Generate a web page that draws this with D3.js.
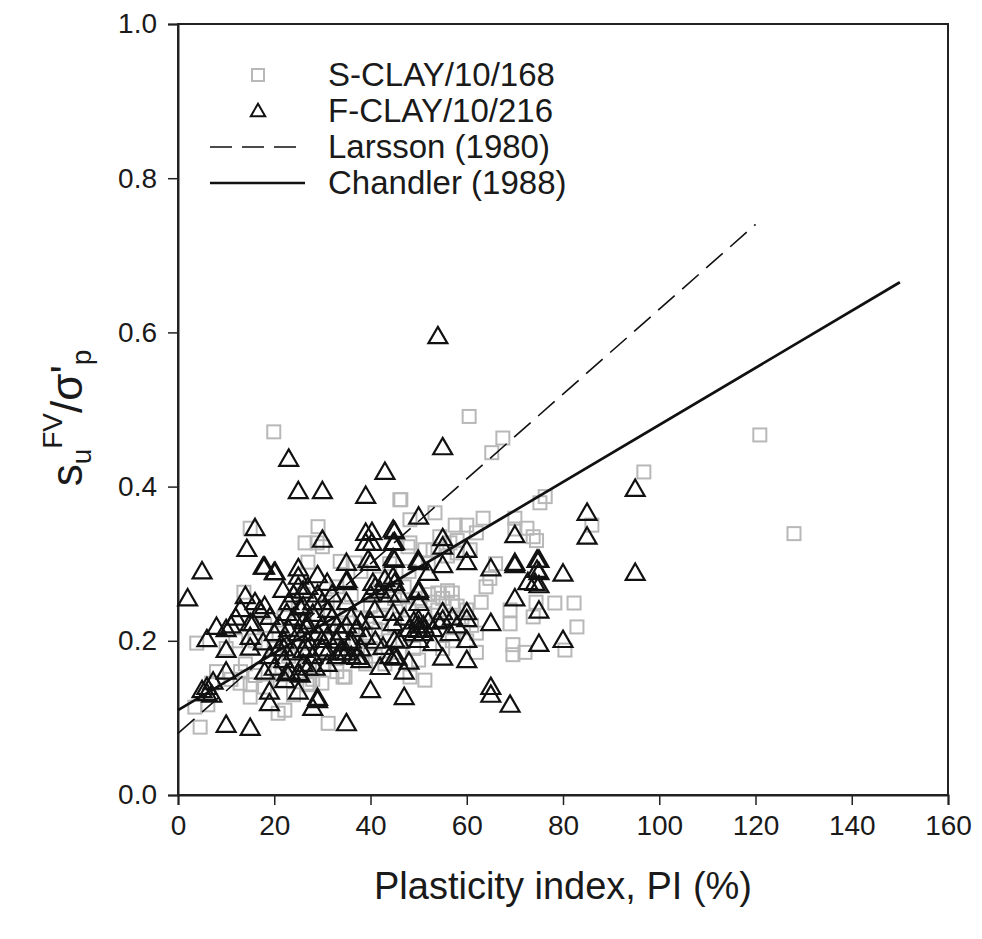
<!DOCTYPE html>
<html><head><meta charset="utf-8">
<script src="https://cdn.jsdelivr.net/npm/d3@7/dist/d3.min.js"></script>
<style>body{margin:0;background:#fff}svg{display:block}text{font-family:"Liberation Sans",Arial,sans-serif;fill:#1a1a1a}</style>
</head><body><svg id="c" width="982" height="939"></svg>
<script>
const xTicks = [0,20,40,60,80,100,120,140,160];
const yTicks = [0.0,0.2,0.4,0.6,0.8,1.0];
const legendLabels = ["S-CLAY/10/168","F-CLAY/10/216","Larsson (1980)","Chandler (1988)"];
// Larsson (1980): 0.08 + 0.0055 PI ; Chandler (1988): 0.11 + 0.0037 PI
const larssonPI = [0,120];
const larssonVal = [0.08,0.74];
const chandlerPI = [0,150];
const chandlerVal = [0.11,0.665];

const sClay = [[19.9,0.471],[15,0.346],[29.1,0.348],[26.4,0.327],[27,0.302],[33.7,0.303],[13.7,0.263],[30,0.322],[3.9,0.197],[4.6,0.088],[3.5,0.114],[6.2,0.117],[12.9,0.145],[15,0.127],[15,0.143],[20.8,0.106],[22.2,0.11],[20.6,0.158],[21.2,0.149],[31.2,0.093],[34.3,0.153],[29.9,0.145],[27.4,0.145],[60.5,0.491],[67.5,0.463],[65.2,0.444],[46.3,0.383],[48.2,0.357],[53.4,0.366],[57.6,0.35],[60,0.35],[63.4,0.359],[70,0.359],[72.5,0.346],[48.2,0.327],[51.3,0.318],[54.4,0.335],[56.5,0.327],[73.8,0.335],[75.2,0.379],[96.8,0.419],[76.3,0.387],[70,0.345],[86,0.35],[74.5,0.33],[78.3,0.249],[82.3,0.249],[82.9,0.218],[69,0.24],[69,0.222],[73.8,0.231],[69.6,0.195],[69.6,0.182],[72.1,0.185],[80.4,0.188],[120.9,0.467],[128,0.339],[34.7,0.153],[51.3,0.149],[48.2,0.153],[74.4,0.25],[36.8,0.301],[28.9,0.327],[46.1,0.383],[47.8,0.322],[58,0.314],[64.8,0.281],[53,0.318],[60.7,0.318],[54,0.262],[57,0.262],[26.8,0.143],[21.6,0.156],
[16,0.2],[18,0.22],[20,0.19],[21,0.21],[22,0.23],[23,0.18],[24,0.2],[25,0.24],[26,0.26],[27,0.18],[28,0.21],[29,0.23],[30,0.17],[31,0.25],[32,0.2],[33,0.27],[34,0.22],[35,0.24],[36,0.26],[37,0.2],[38,0.23],[39,0.21],[40,0.19],[40,0.245],[41,0.215],[42,0.23],[43,0.25],[44,0.2],[45,0.22],[46,0.245],[47,0.27],[48,0.24],[49,0.19],[50,0.255],[51,0.235],[52,0.26],[53,0.25],[54,0.24],[55,0.255],[56,0.265],[57,0.25],[58,0.245],[59,0.23],[60,0.24],[61,0.22],[62,0.21],[63,0.25],[64,0.27],[66,0.3],[45,0.255],[42,0.28],[38,0.29],[44,0.3],[48,0.29],[52,0.3],[56,0.31],[58,0.33],[62,0.34],[12,0.2],[10,0.19],[8,0.16],[11,0.15],[14,0.17],[16,0.155],[18,0.14],[24,0.13],[28,0.15],[33,0.16],[36,0.18],[39,0.17],[41,0.18],[43,0.17],[46,0.185],[55,0.19],[57,0.2],[50,0.175],[60,0.2],[62,0.185],[13,0.16],[7,0.145]];

const fClay = [[2,0.255],[5,0.29],[6,0.202],[5,0.136],[6,0.132],[7.3,0.147],[8,0.218],[10,0.215],[10,0.188],[10,0.16],[10,0.091],[13,0.241],[14,0.258],[14.3,0.319],[16,0.346],[15,0.223],[15,0.205],[15,0.191],[15,0.087],[18,0.296],[18,0.245],[18,0.16],[17.7,0.198],[19,0.134],[19,0.119],[20,0.289],[22.6,0.158],[23,0.436],[25,0.394],[25,0.294],[25,0.158],[25,0.134],[28,0.113],[29,0.126],[29,0.285],[30,0.394],[30,0.331],[35,0.301],[35,0.276],[35,0.093],[39,0.388],[39,0.34],[39,0.327],[40,0.301],[40,0.136],[43,0.419],[45,0.342],[45,0.328],[45,0.305],[45,0.275],[45,0.201],[45,0.179],[42.6,0.192],[42,0.166],[47,0.16],[47,0.127],[48,0.173],[50,0.361],[50,0.302],[50,0.263],[50,0.266],[50,0.249],[50,0.227],[50,0.214],[50,0.201],[52,0.288],[53,0.197],[54,0.595],[55,0.451],[55,0.333],[55,0.322],[55,0.298],[55,0.237],[55,0.227],[55,0.178],[56.5,0.21],[60,0.318],[60,0.302],[60,0.237],[60,0.228],[60,0.201],[60,0.175],[65,0.294],[65,0.223],[65,0.14],[65,0.13],[69,0.117],[70,0.337],[70,0.301],[70,0.298],[70,0.255],[72.7,0.276],[75,0.305],[75,0.289],[75,0.272],[75,0.239],[75,0.196],[80,0.287],[80,0.201],[85,0.366],[85,0.335],[95,0.397],[95,0.288],
[19.1,0.231],[15.6,0.223],[22.6,0.236],[25.4,0.243],[31.2,0.24],[40.9,0.24],[44.7,0.236],[44.7,0.223],[26,0.21],[29.9,0.201],[26,0.188],[33.7,0.211],[35.7,0.197],[37.2,0.179],[45.5,0.178],[22.2,0.149],[23.3,0.16],[25.4,0.156],[27,0.165],[28.5,0.165],[29,0.123],[40.3,0.341],[44.7,0.344],[40.3,0.327],[44.7,0.327],[39.5,0.305],[44.7,0.307],[17.7,0.296],[20.2,0.289],[25,0.283],[35.1,0.279],[31,0.275],[21.8,0.266],[27,0.27],[40.5,0.275],[44.7,0.283],[49.9,0.305],[74.6,0.305],[74.6,0.292],[74.2,0.275],
[20,0.21],[21,0.22],[22,0.2],[22,0.19],[23,0.215],[23,0.25],[24,0.26],[24,0.23],[25,0.27],[25,0.21],[26,0.225],[26,0.245],[26,0.265],[27,0.2],[27,0.19],[27,0.22],[28,0.25],[28,0.235],[28,0.18],[29,0.21],[29,0.26],[30,0.22],[30,0.19],[30,0.25],[31,0.205],[31,0.185],[32,0.23],[32,0.26],[33,0.2],[33,0.22],[34,0.19],[34,0.185],[35,0.22],[35,0.185],[35,0.25],[36,0.23],[36,0.2],[37,0.215],[38,0.225],[38,0.19],[39,0.205],[40,0.26],[40,0.225],[41,0.27],[41,0.2],[42,0.265],[43,0.28],[44,0.26],[44,0.18],[46,0.26],[46,0.2],[47,0.23],[48,0.215],[49,0.225],[49,0.21],[50,0.22],[51,0.22],[51,0.21],[52,0.225],[53,0.215],[54,0.225],[57,0.23],[58,0.22],[17,0.24],[16,0.25],[12,0.23],[11,0.22],[20,0.165],[19,0.18],[21,0.19],[22,0.175],[24,0.185],[26,0.17],[31,0.17],[33,0.18],[36,0.18],[38,0.175],[6,0.14],[7,0.13]];

const svg = d3.select("#c");
const L=178,R=948,T=24,B=795;
const x = d3.scaleLinear().domain([0,160]).range([L,R]);
const y = d3.scaleLinear().domain([0,1]).range([B,T]);

// frame
svg.append("rect").attr("x",L).attr("y",T).attr("width",R-L).attr("height",B-T)
  .attr("fill","none").attr("stroke","#222").attr("stroke-width",2);

const xAxis = svg.append("g").attr("transform",`translate(0,${B})`)
  .call(d3.axisBottom(x).tickValues(xTicks).tickFormat(d3.format("d")).tickSize(10).tickPadding(10));
const yAxis = svg.append("g").attr("transform",`translate(${L},0)`)
  .call(d3.axisLeft(y).tickValues(yTicks).tickFormat(d3.format(".1f")).tickSize(10).tickPadding(11));
[xAxis,yAxis].forEach(g=>{
  g.select(".domain").attr("stroke","#222").attr("stroke-width",2);
  g.selectAll(".tick line").attr("stroke","#222").attr("stroke-width",1.5);
  g.selectAll(".tick text").attr("font-size",28).attr("fill","#1a1a1a").attr("font-family","'Liberation Sans',Arial,sans-serif");
});

const clipG = svg.append("g");
// squares
clipG.selectAll(".sq").data(sClay).enter().append("rect")
  .attr("x",d=>x(d[0])-6.5).attr("y",d=>y(d[1])-6.5).attr("width",13).attr("height",13)
  .attr("fill","none").attr("stroke","#b8b8b8").attr("stroke-width",2);
// triangles
const tri = d3.symbol().type(d3.symbolTriangle).size(155);
clipG.selectAll(".tr").data(fClay).enter().append("path")
  .attr("d",tri).attr("transform",d=>`translate(${x(d[0])},${y(d[1])+1.5})`)
  .attr("fill","none").attr("stroke","#111").attr("stroke-width",2.2);

// lines
const line = d3.line().x(d=>x(d[0])).y(d=>y(d[1]));
svg.append("path").datum(larssonPI.map((p,i)=>[p,larssonVal[i]])).attr("d",line)
  .attr("fill","none").attr("stroke","#111").attr("stroke-width",1.6).attr("stroke-dasharray","22,10");
svg.append("path").datum(chandlerPI.map((p,i)=>[p,chandlerVal[i]])).attr("d",line)
  .attr("fill","none").attr("stroke","#111").attr("stroke-width",2.7);

// legend
const lg = svg.append("g");
const rowsY=[75,111,147,183];
lg.append("rect").attr("x",252).attr("y",rowsY[0]-6).attr("width",12).attr("height",12)
  .attr("fill","none").attr("stroke","#b8b8b8").attr("stroke-width",2);
lg.append("path").attr("d",d3.symbol().type(d3.symbolTriangle).size(90))
  .attr("transform",`translate(258,${rowsY[1]+1})`).attr("fill","none").attr("stroke","#111").attr("stroke-width",2);
lg.append("line").attr("x1",210).attr("x2",296).attr("y1",rowsY[2]).attr("y2",rowsY[2])
  .attr("stroke","#111").attr("stroke-width",1.6).attr("stroke-dasharray","22,10");
lg.append("line").attr("x1",210).attr("x2",305).attr("y1",rowsY[3]).attr("y2",rowsY[3])
  .attr("stroke","#111").attr("stroke-width",2.7);
lg.selectAll(".lt").data(legendLabels).enter().append("text")
  .attr("x",328).attr("y",(d,i)=>rowsY[i]+11).attr("font-size",33).text(d=>d);

// axis titles
svg.append("text").attr("x",563).attr("y",899).attr("text-anchor","middle").attr("font-size",38)
  .text("Plasticity index, PI (%)");
const yt = svg.append("text").attr("transform","translate(82,418) rotate(-90)").attr("text-anchor","middle").attr("font-size",44);
yt.append("tspan").text("s");
yt.append("tspan").attr("font-size",28).attr("dy",9).text("u");
yt.append("tspan").attr("font-size",28).attr("dy",-29).text("FV");
yt.append("tspan").attr("dy",20).text("/σ'");
yt.append("tspan").attr("font-size",28).attr("dy",9).text("p");
</script></body></html>
